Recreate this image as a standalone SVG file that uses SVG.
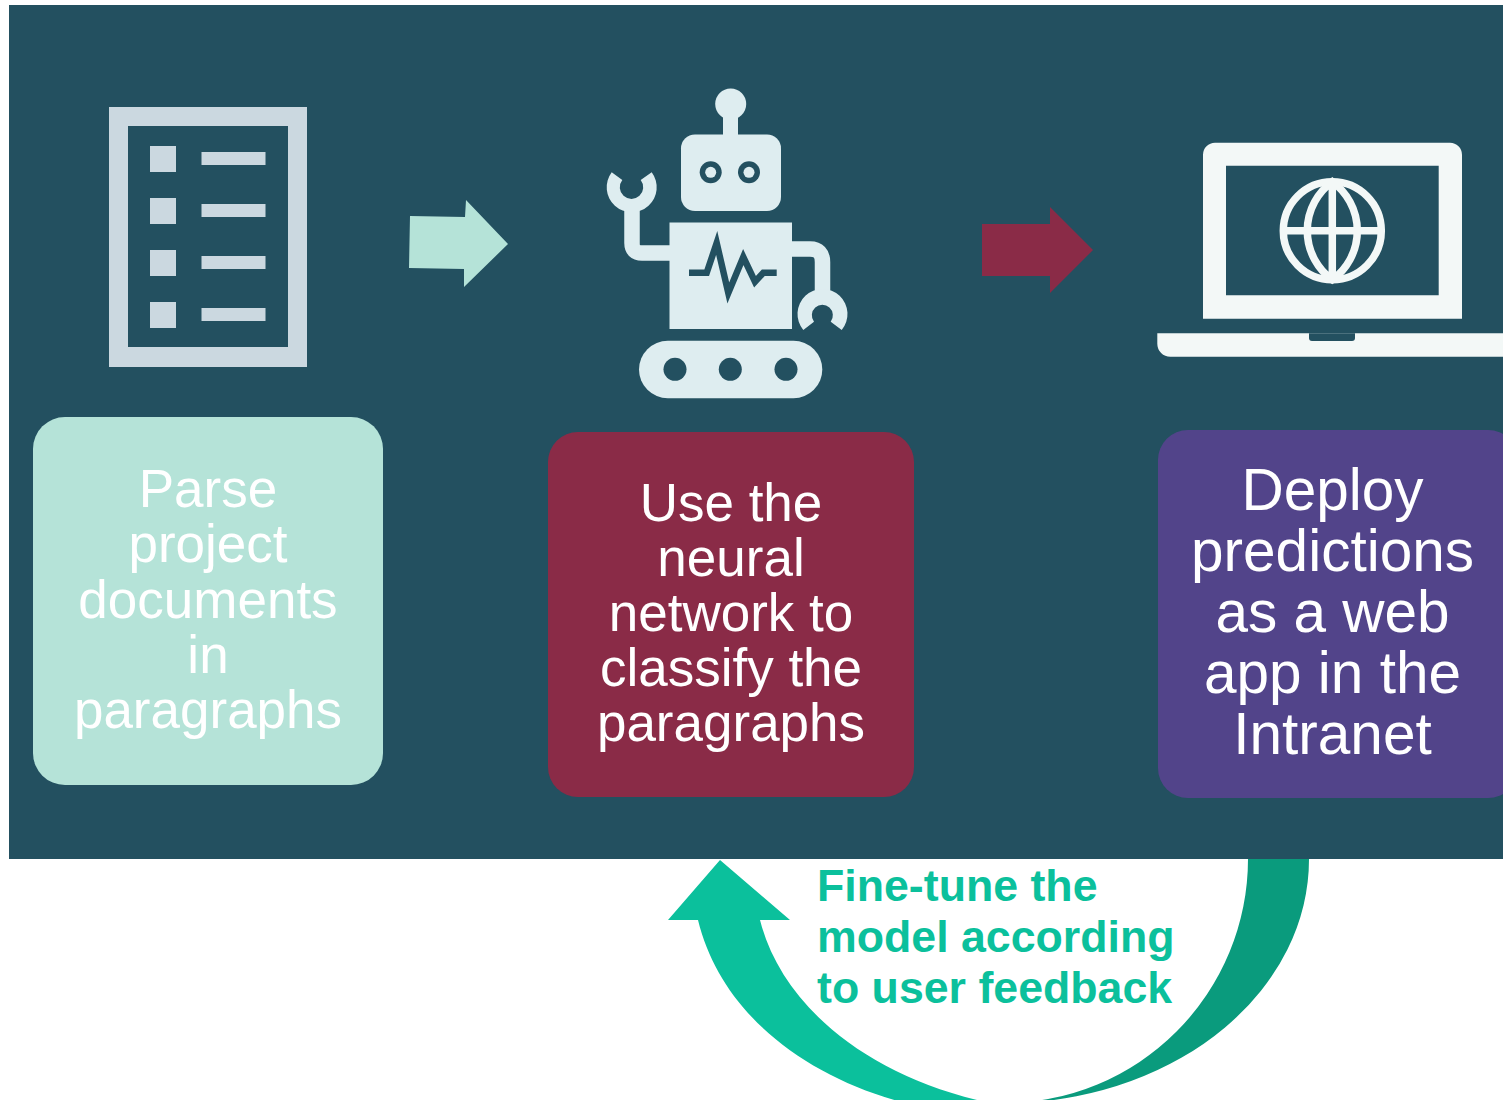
<svg xmlns="http://www.w3.org/2000/svg" width="1503" height="1100" viewBox="0 0 1503 1100">
<style>
.t{font-family:"Liberation Sans",Arial,sans-serif;fill:#fff;text-anchor:middle}
.t1{font-size:53px}
.t3{font-size:58.5px}
.f{font-family:"Liberation Sans",Arial,sans-serif;font-weight:700;font-size:44.7px;fill:#0bc09c}
.doc{fill:#cbd8e0}
.rb{fill:#deedf0}
.rl{fill:none;stroke:#deedf0;stroke-width:15.5}
.bg{fill:#235060}
.lap{fill:#f3f8f7}
.gl{fill:none;stroke:#f3f8f7;stroke-width:7.5}
</style>
<rect width="1503" height="1100" fill="#fff"/>
<rect class="bg" x="9" y="5" width="1494" height="854"/>
<g id="connectors">
<polygon points="410,216 465,217 466,200 508,244 464,287 464,269 409,268" fill="#b5e3d8"/>
<polygon points="982,224 1050,224 1050,207 1093,250 1050,293 1050,276 982,276" fill="#8a2b47"/>
<path d="M1309,859 A305 244 0 0 1 1019,1103 L1004,1103 A244 244 0 0 0 1248,859 Z" fill="#0a9b7d"/>
<path d="M720,860 L790,920 L760,920 C780,1000 860,1075 990,1103 L905,1103 C800,1075 720,1010 698,920 L668,920 Z" fill="#0bc09c"/>
</g>
<g id="node-parse">
<path class="doc" fill-rule="evenodd" d="M109,107H307V367H109ZM128,126V347H288V126Z"/>
<rect class="doc" x="150" y="146" width="26" height="26"/><rect class="doc" x="201.500" y="152" width="64" height="13"/>
<rect class="doc" x="150" y="198" width="26" height="26"/><rect class="doc" x="201.500" y="204" width="64" height="13"/>
<rect class="doc" x="150" y="250" width="26" height="26"/><rect class="doc" x="201.500" y="256" width="64" height="13"/>
<rect class="doc" x="150" y="302" width="26" height="26"/><rect class="doc" x="201.500" y="308" width="64" height="13"/>
<rect x="33" y="417" width="350" height="368" rx="32" fill="#b5e3d8"/>
<text class="t t1" x="208" y="507">Parse</text>
<text class="t t1" x="208" y="562">project</text>
<text class="t t1" x="208" y="618">documents</text>
<text class="t t1" x="208" y="673">in</text>
<text class="t t1" x="208" y="728">paragraphs</text>
</g>
<g id="node-classify">
<circle class="rb" cx="730.700" cy="104" r="15.500"/>
<rect class="rb" x="723" y="112" width="15" height="30"/>
<rect class="rb" x="681" y="134.500" width="100" height="76.500" rx="14"/>
<circle class="bg" cx="710.700" cy="172.300" r="11"/><circle class="rb" cx="710.700" cy="172.300" r="5.500"/>
<circle class="bg" cx="749" cy="172.300" r="11"/><circle class="rb" cx="749" cy="172.300" r="5.500"/>
<path class="rb" d="M611.700,172.300A25 25 0 1 0 651.700,172.300L640.700,180A11.700 11.700 0 1 1 622.300,180Z"/>
<path class="rl" d="M632,205V243Q632,253 642,253H672"/>
<path class="rl" d="M790,249H810Q822.500,249 822.500,262V298"/>
<path class="rb" d="M803.300,330A25 25 0 1 1 841.700,330L830.700,321.700A10.500 10.500 0 1 0 814,321.700Z"/>
<rect class="rb" x="669.500" y="222.500" width="122.500" height="106.500"/>
<polyline points="689,272.700 706.700,272.700 716.700,243 728.300,293 743.300,257 755,281.700 763.300,272.700 776.700,272.700" fill="none" stroke="#235060" stroke-width="6.500"/>
<rect class="rb" x="639" y="340.700" width="183.300" height="57.600" rx="28.800"/>
<circle class="bg" cx="675" cy="369.300" r="11.500"/><circle class="bg" cx="730.300" cy="369.300" r="11.500"/><circle class="bg" cx="786" cy="369.300" r="11.500"/>
<rect x="548" y="432" width="366" height="365" rx="30" fill="#8a2b47"/>
<text class="t t1" x="731" y="521">Use the</text>
<text class="t t1" x="731" y="576">neural</text>
<text class="t t1" x="731" y="631">network to</text>
<text class="t t1" x="731" y="686">classify the</text>
<text class="t t1" x="731" y="741">paragraphs</text>
</g>
<g id="node-deploy">
<path class="lap" fill-rule="evenodd" d="M1215,142.700H1450A12 12 0 0 1 1462,154.700V318.700H1203V154.700A12 12 0 0 1 1215,142.700ZM1226,165.700V295.300H1438.700V165.700Z"/>
<circle class="gl" cx="1332.300" cy="230.700" r="49"/>
<path class="gl" d="M1332.300,181.700V279.700M1283.300,230.700H1381.300M1332.300,181.700A60.500 60.500 0 0 0 1332.300,279.700A60.500 60.500 0 0 0 1332.300,181.700Z"/>
<path class="lap" d="M1157.300,333.300H1503V356.700H1170.300A13 13 0 0 1 1157.300,343.700Z"/>
<path class="bg" d="M1309,333.300H1355V338A3 3 0 0 1 1352,341H1312A3 3 0 0 1 1309,338Z"/>
<rect x="1158" y="430" width="360" height="368" rx="30" fill="#52448a"/>
<text class="t t3" x="1332.500" y="510">Deploy</text>
<text class="t t3" x="1332.500" y="571">predictions</text>
<text class="t t3" x="1332.500" y="632">as a web</text>
<text class="t t3" x="1332.500" y="693">app in the</text>
<text class="t t3" x="1332.500" y="754">Intranet</text>
</g>
<g id="node-feedback">
<text class="f" x="817" y="901">Fine-tune the</text>
<text class="f" x="817" y="952">model according</text>
<text class="f" x="817" y="1003">to user feedback</text>
</g>
</svg>
